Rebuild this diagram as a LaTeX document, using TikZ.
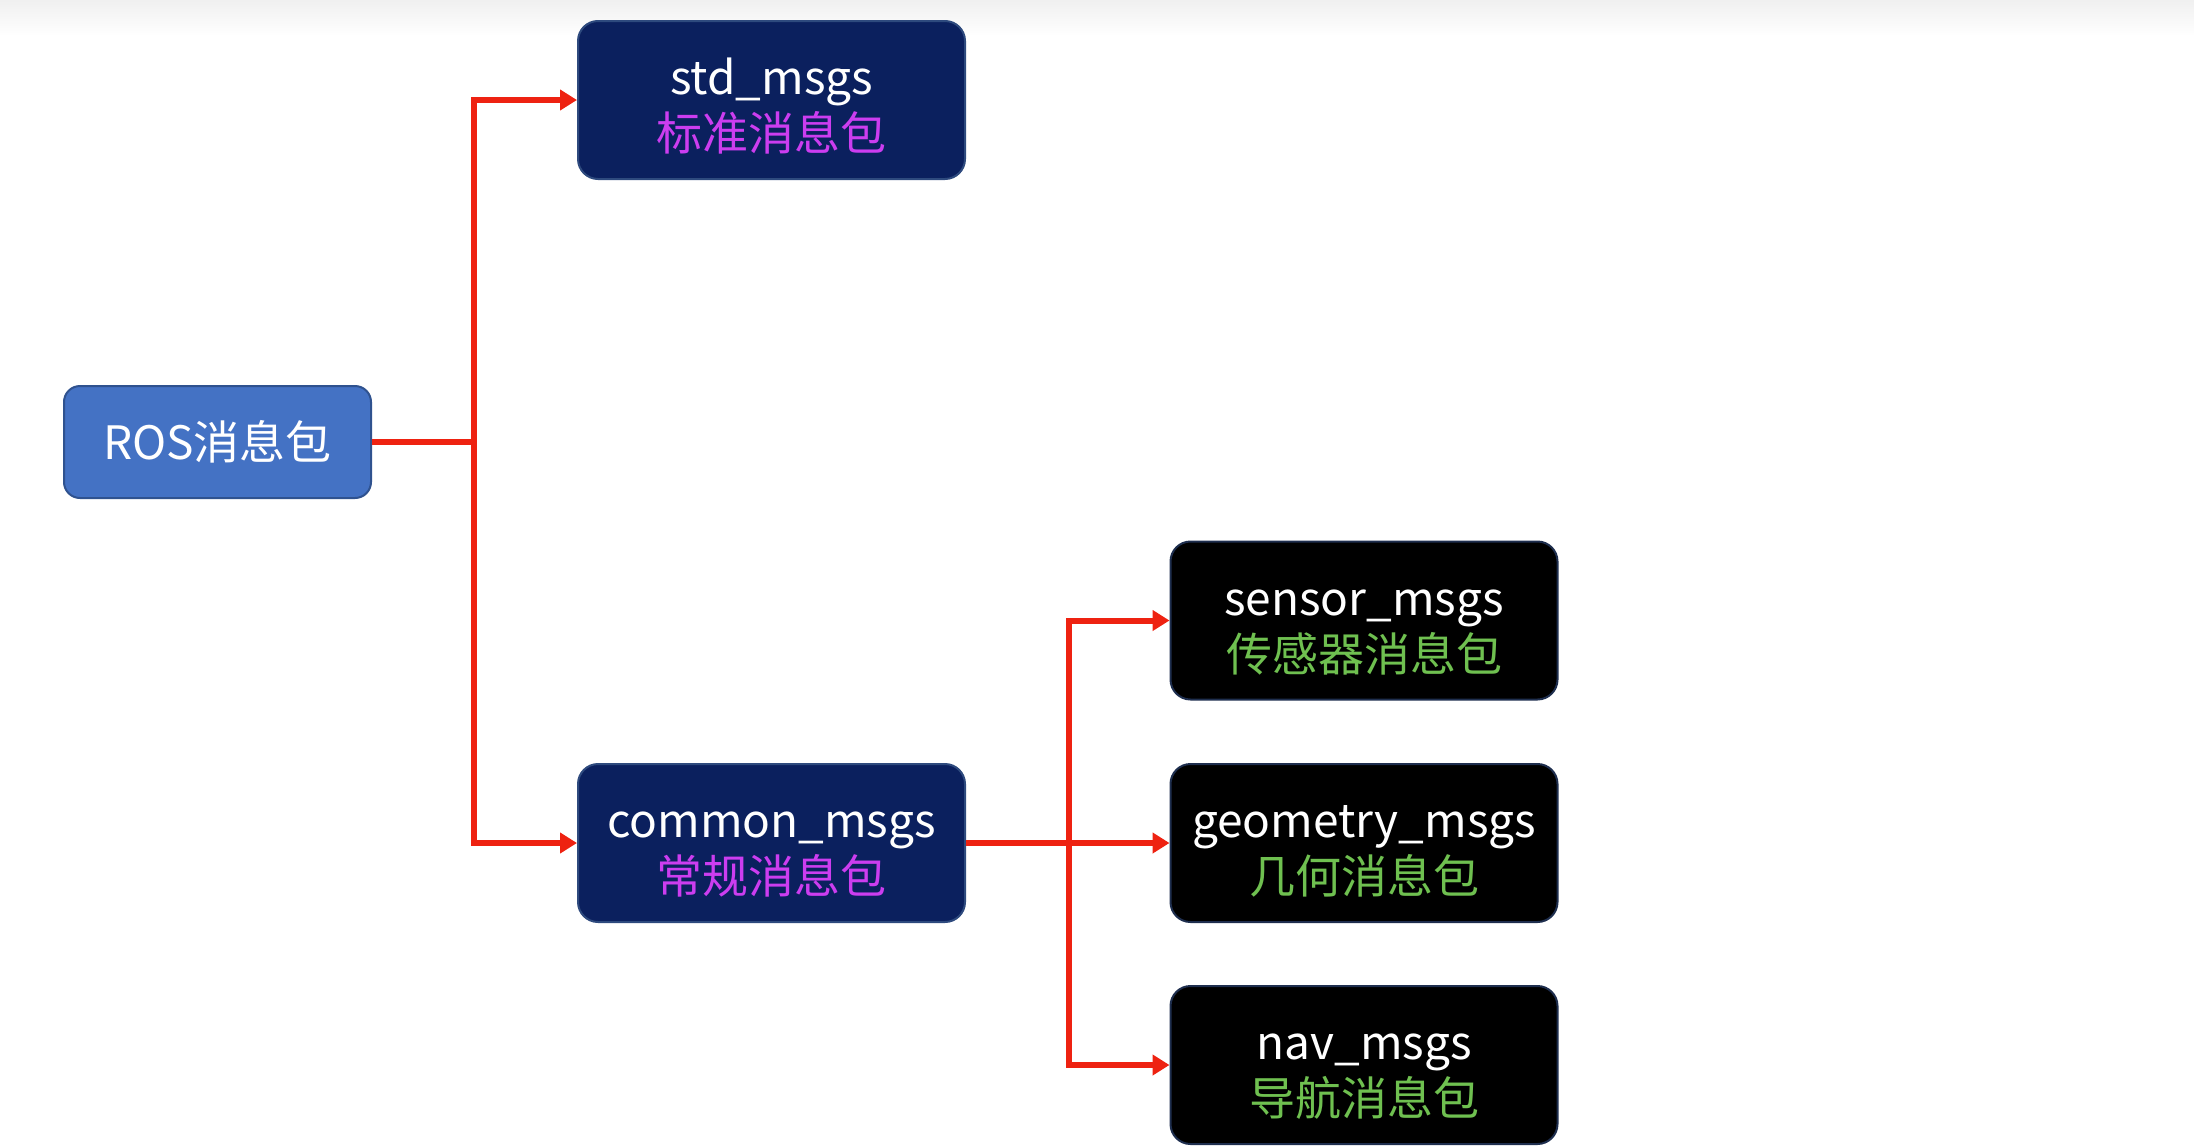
\documentclass[tikz,border=0pt]{standalone}
\usepackage{fontspec}
\setmainfont{Noto Sans CJK SC}
\usetikzlibrary{arrows.meta}
\definecolor{navyfill}{HTML}{0B205E}
\definecolor{navyedge}{HTML}{2E4A7E}
\definecolor{rosfill}{HTML}{4472C4}
\definecolor{rosedge}{HTML}{2F528F}
\definecolor{blackedge}{HTML}{1E2E4E}
\definecolor{magtext}{HTML}{CC3DF0}
\definecolor{greentext}{HTML}{6FC050}
\definecolor{arrred}{HTML}{EE2211}
\newcommand{\topfix}{\rule{0pt}{49pt}}
\tikzset{
  box/.style={rounded corners=20pt, line width=2pt, minimum width=387pt, minimum height=158pt,
    inner sep=0pt, align=center, text=white, font=\fontsize{46}{56}\selectfont},
  navybox/.style={box, fill=navyfill, draw=navyedge},
  blackbox/.style={box, fill=black, draw=blackedge},
  rosbox/.style={rounded corners=16pt, line width=2pt, fill=rosfill, draw=rosedge,
    minimum width=307pt, minimum height=112pt, inner sep=0pt, text=white,
    font=\fontsize{46}{56}\selectfont},
  link/.style={draw=arrred, line width=6pt},
  arr/.style={link, -{Triangle[length=17pt,width=20pt]}}
}
\begin{document}
\begin{tikzpicture}[x=1pt,y=-1pt]
\useasboundingbox (0,0) rectangle (2194,1146);
\shade[top color=black!6, bottom color=white] (0,0) rectangle (2194,36);
\node[rosbox] (ros) at (217.5,442) {ROS消息包};
\node[navybox] (std) at (771.5,100) {\topfix std\_msgs\\\textcolor{magtext}{标准消息包}};
\node[navybox] (common) at (771.5,843) {\topfix common\_msgs\\\textcolor{magtext}{常规消息包}};
\node[blackbox] (sensor) at (1364,620.5) {\topfix sensor\_msgs\\\textcolor{greentext}{传感器消息包}};
\node[blackbox] (geometry) at (1364,843) {\topfix geometry\_msgs\\\textcolor{greentext}{几何消息包}};
\node[blackbox] (nav) at (1364,1065) {\topfix nav\_msgs\\\textcolor{greentext}{导航消息包}};
\coordinate (j1) at (474,442);
\coordinate (j2) at (1069,843);
\draw[link] (ros.east) -- (j1);
\draw[arr] (j1) |- (std.west);
\draw[arr] (j1) |- (common.west);
\draw[arr] (common.east) -- (geometry.west);
\draw[arr] (j2) |- (sensor.west);
\draw[arr] (j2) |- (nav.west);
\end{tikzpicture}
\end{document}
